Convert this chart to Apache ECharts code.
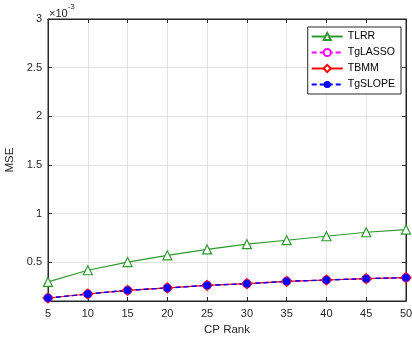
<!DOCTYPE html>
<html>
<head>
<meta charset="utf-8">
<script src="https://cdn.jsdelivr.net/npm/echarts@6/dist/echarts.min.js"></script>
<style>
  html, body { margin: 0; padding: 0; background: #fff; }
  #container { width: 412px; height: 341px; }
</style>
</head>
<body>
<div id="container"></div>
<script>
// values in units of 1e-3
var cpRank = [5, 10, 15, 20, 25, 30, 35, 40, 45, 50];
var tlrr    = [0.296, 0.416, 0.50, 0.57, 0.63, 0.684, 0.725, 0.766, 0.807, 0.835];
var tglasso = [0.131, 0.172, 0.21, 0.234, 0.261, 0.278, 0.302, 0.316, 0.33, 0.34];
var tbmm    = [0.131, 0.172, 0.21, 0.234, 0.261, 0.278, 0.302, 0.316, 0.33, 0.34];
var tgslope = [0.131, 0.172, 0.21, 0.234, 0.261, 0.278, 0.302, 0.316, 0.33, 0.34];
var yTicks = [0.5, 1, 1.5, 2, 2.5, 3];

function pairs(ys) {
    return cpRank.map(function (x, i) { return [x, ys[i]]; });
}

var dom = document.getElementById('container');
var myChart = echarts.init(dom, null, { renderer: 'canvas' });

var font = 'Liberation Sans, Arial, sans-serif';
var axisColor = '#262626';

var option = {
    animation: false,
    textStyle: { fontFamily: font },
    grid: { left: 48, right: 6, top: 19, bottom: 40, show: true, borderColor: axisColor, borderWidth: 1,
        outerBoundsMode: 'none', containLabel: false },
    legend: {
        orient: 'vertical',
        right: 11,
        top: 27,
        itemWidth: 31,
        itemHeight: 9,
        itemGap: 5,
        padding: [4, 6, 4, 3],
        borderColor: axisColor,
        borderWidth: 1,
        backgroundColor: '#fff',
        textStyle: { fontSize: 10.5, color: '#000', fontFamily: font },
        data: ['TLRR', 'TgLASSO', 'TBMM', 'TgSLOPE']
    },
    xAxis: [{
        type: 'value',
        min: 5,
        max: 50,
        interval: 5,
        name: 'CP Rank',
        nameLocation: 'middle',
        nameGap: 23,
        nameTextStyle: { fontSize: 11.5, color: axisColor },
        axisLine: { show: true, lineStyle: { color: axisColor } },
        axisTick: { inside: true, length: 4, lineStyle: { color: axisColor } },
        axisLabel: { fontSize: 11, color: axisColor, margin: 7 },
        splitLine: { show: true, lineStyle: { color: '#e3e3e3' } }
    }, {
        type: 'value',
        position: 'top',
        min: 5,
        max: 50,
        interval: 5,
        axisLine: { show: true, lineStyle: { color: axisColor } },
        axisTick: { inside: true, length: 4, lineStyle: { color: axisColor } },
        axisLabel: { show: false },
        splitLine: { show: false }
    }],
    yAxis: [{
        type: 'value',
        min: 0.1,
        max: 3,
        name: 'MSE',
        nameLocation: 'middle',
        nameGap: 31,
        nameTextStyle: { fontSize: 11.5, color: axisColor },
        axisLine: { show: true, lineStyle: { color: axisColor } },
        axisTick: { inside: true, length: 4, customValues: yTicks, lineStyle: { color: axisColor } },
        axisLabel: { fontSize: 11, color: axisColor, margin: 6, customValues: yTicks,
            formatter: function (v) { return String(+v.toFixed(2)); } },
        splitLine: { show: true, lineStyle: { color: '#e3e3e3' } }
    }, {
        type: 'value',
        position: 'right',
        min: 0.1,
        max: 3,
        axisLine: { show: true, lineStyle: { color: axisColor } },
        axisTick: { inside: true, length: 4, customValues: yTicks, lineStyle: { color: axisColor } },
        axisLabel: { show: false, customValues: yTicks },
        splitLine: { show: false }
    }],
    graphic: [{
        type: 'text',
        left: 49,
        top: 3,
        style: {
            text: '{a|×10}{b|-3}',
            rich: {
                a: { fontSize: 11, fill: axisColor, fontFamily: font, padding: [5, 0, 0, 0] },
                b: { fontSize: 8, fill: axisColor, fontFamily: font, verticalAlign: 'top' }
            }
        }
    }],
    series: [{
        name: 'TLRR',
        type: 'line',
        data: pairs(tlrr),
        symbol: 'triangle',
        symbolSize: 9,
        color: '#2e9a2e',
        itemStyle: { color: '#fff', borderColor: '#2e9a2e', borderWidth: 1.2 },
        lineStyle: { color: '#2e9a2e', width: 1.2 }
    }, {
        name: 'TgLASSO',
        type: 'line',
        data: pairs(tglasso),
        symbol: 'circle',
        symbolSize: 8,
        color: '#ff00ff',
        itemStyle: { color: '#fff', borderColor: '#ff00ff', borderWidth: 1.2 },
        lineStyle: { color: '#ff00ff', width: 1.2, type: [5, 3] }
    }, {
        name: 'TBMM',
        type: 'line',
        data: pairs(tbmm),
        symbol: 'diamond',
        symbolSize: 10,
        color: '#ff0000',
        itemStyle: { color: '#fff', borderColor: '#ff0000', borderWidth: 1.2 },
        lineStyle: { color: '#ff0000', width: 1.2 }
    }, {
        name: 'TgSLOPE',
        type: 'line',
        data: pairs(tgslope),
        symbol: 'circle',
        symbolSize: 7,
        color: '#0000ff',
        itemStyle: { color: '#0000ff', borderColor: '#0000ff' },
        lineStyle: { color: '#0000ff', width: 1.4, type: [5, 3] }
    }]
};

myChart.setOption(option);
window.addEventListener('resize', myChart.resize);
</script>
</body>
</html>
